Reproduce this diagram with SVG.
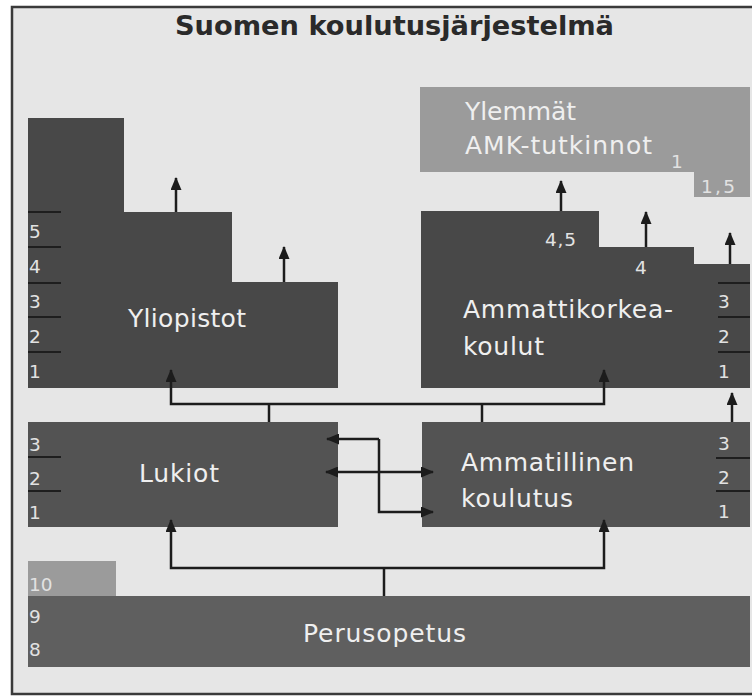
<svg xmlns="http://www.w3.org/2000/svg" width="752" height="697" viewBox="0 0 752 697">
  <defs>
    <marker id="arrow" markerUnits="userSpaceOnUse" markerWidth="13" markerHeight="11" refX="12" refY="5.5" orient="auto-start-reverse">
      <path d="M0,0 L13,5.5 L0,11 z" fill="#1c1c1c"/>
    </marker>
    <style>
      .dark { fill: #484848; }
      .mid { fill: #535353; }
      .base { fill: #5f5f5f; }
      .light { fill: #9b9b9b; }
      .lbl { font-family: "DejaVu Sans", "Liberation Sans", sans-serif; font-size: 25px; fill: #efefef; }
      .num { font-family: "DejaVu Sans", "Liberation Sans", sans-serif; font-size: 18.5px; fill: #e2e2e2; }
      .tick { stroke: #1e1e1e; stroke-width: 2; }
      .wire { fill: none; stroke: #1c1c1c; stroke-width: 2.5; }
      .arr { marker-end: url(#arrow); }
      .arr2 { marker-start: url(#arrow); marker-end: url(#arrow); }
    </style>
  </defs>

  <!-- page and frame -->
  <rect x="0" y="0" width="752" height="697" fill="#ffffff"/>
  <rect x="12" y="7" width="760" height="687" fill="#e6e6e6" stroke="#3a3a3a" stroke-width="2.5"/>

  <text x="175" y="35" textLength="439" lengthAdjust="spacingAndGlyphs" font-family="DejaVu Sans, Liberation Sans, sans-serif" font-weight="bold" font-size="27" fill="#2a2a2a">Suomen koulutusjärjestelmä</text>

  <!-- Ylemmät AMK-tutkinnot -->
  <g id="ylemmat">
    <path class="light" d="M420,87 H750 V197 H694 V172 H420 Z"/>
    <text class="lbl" x="465" y="120" textLength="111">Ylemmät</text>
    <text class="lbl" x="465" y="154" textLength="187">AMK-tutkinnot</text>
    <text class="num" x="671" y="168" font-size="16">1</text>
    <text class="num" x="701" y="193" textLength="34">1,5</text>
  </g>

  <!-- Yliopistot -->
  <g id="yliopistot">
    <path class="dark" d="M28,118 H124 V212 H232 V282 H338 V388 H28 Z"/>
    <line class="tick" x1="28" y1="212" x2="61" y2="212"/>
    <line class="tick" x1="28" y1="247" x2="61" y2="247"/>
    <line class="tick" x1="28" y1="283" x2="61" y2="283"/>
    <line class="tick" x1="28" y1="317" x2="61" y2="317"/>
    <line class="tick" x1="28" y1="352" x2="61" y2="352"/>
    <text class="num" x="29" y="238">5</text>
    <text class="num" x="29" y="273">4</text>
    <text class="num" x="29" y="308">3</text>
    <text class="num" x="29" y="343">2</text>
    <text class="num" x="29" y="378">1</text>
    <text class="lbl" x="128" y="327" textLength="118">Yliopistot</text>
  </g>

  <!-- Ammattikorkeakoulut -->
  <g id="amk">
    <path class="dark" d="M421,211 H599 V247 H694 V264 H750 V388 H421 Z"/>
    <line class="tick" x1="718" y1="283" x2="750" y2="283"/>
    <line class="tick" x1="718" y1="317" x2="750" y2="317"/>
    <line class="tick" x1="718" y1="352" x2="750" y2="352"/>
    <text class="num" x="718" y="308">3</text>
    <text class="num" x="718" y="343">2</text>
    <text class="num" x="718" y="378">1</text>
    <text class="num" x="545" y="246" textLength="31">4,5</text>
    <text class="num" x="635" y="274">4</text>
    <text class="lbl" x="463" y="318" textLength="210">Ammattikorkea-</text>
    <text class="lbl" x="463" y="355" textLength="81">koulut</text>
  </g>

  <!-- Lukiot -->
  <g id="lukiot">
    <rect class="mid" x="28" y="422" width="310" height="105"/>
    <line class="tick" x1="28" y1="457" x2="61" y2="457"/>
    <line class="tick" x1="28" y1="491" x2="61" y2="491"/>
    <text class="num" x="29" y="451">3</text>
    <text class="num" x="29" y="485">2</text>
    <text class="num" x="29" y="519">1</text>
    <text class="lbl" x="139" y="482" textLength="80">Lukiot</text>
  </g>

  <!-- Ammatillinen koulutus -->
  <g id="ammatillinen">
    <rect class="mid" x="422" y="422" width="328" height="105"/>
    <line class="tick" x1="716" y1="458" x2="750" y2="458"/>
    <line class="tick" x1="716" y1="491" x2="750" y2="491"/>
    <text class="num" x="718" y="450">3</text>
    <text class="num" x="718" y="484">2</text>
    <text class="num" x="718" y="518">1</text>
    <text class="lbl" x="461" y="471" textLength="173">Ammatillinen</text>
    <text class="lbl" x="461" y="507" textLength="112">koulutus</text>
  </g>

  <!-- Perusopetus -->
  <g id="perusopetus">
    <rect class="light" x="28" y="561" width="88" height="35"/>
    <rect class="base" x="28" y="596" width="722" height="71"/>
    <text class="num" x="29" y="591">10</text>
    <text class="num" x="29" y="623">9</text>
    <text class="num" x="29" y="656">8</text>
    <text class="lbl" x="303" y="642" textLength="163">Perusopetus</text>
  </g>

  <!-- connectors -->
  <g id="connectors">
    <!-- onward study from universities and universities of applied sciences -->
    <line class="wire arr" x1="176" y1="212" x2="176" y2="178"/>
    <line class="wire arr" x1="284" y1="282" x2="284" y2="247"/>
    <line class="wire arr" x1="561" y1="211" x2="561" y2="181"/>
    <line class="wire arr" x1="646" y1="247" x2="646" y2="212"/>
    <line class="wire arr" x1="730" y1="264" x2="730" y2="233"/>

    <!-- upper secondary to higher education -->
    <line class="wire" x1="269" y1="422" x2="269" y2="404"/>
    <line class="wire" x1="482" y1="422" x2="482" y2="404"/>
    <path class="wire arr" d="M269,404 H171 V370"/>
    <path class="wire arr" d="M269,404 H604 V370"/>
    <line class="wire arr" x1="732" y1="422" x2="732" y2="393"/>

    <!-- between Lukiot and Ammatillinen koulutus -->
    <path class="wire arr" d="M379,439 H327"/>
    <path class="wire arr" d="M379,439 V512 H433"/>
    <line class="wire arr2" x1="326" y1="472" x2="433" y2="472"/>

    <!-- basic education to upper secondary -->
    <line class="wire" x1="384" y1="596" x2="384" y2="568"/>
    <path class="wire arr" d="M384,568 H171 V520"/>
    <path class="wire arr" d="M384,568 H604 V520"/>
  </g>
</svg>
